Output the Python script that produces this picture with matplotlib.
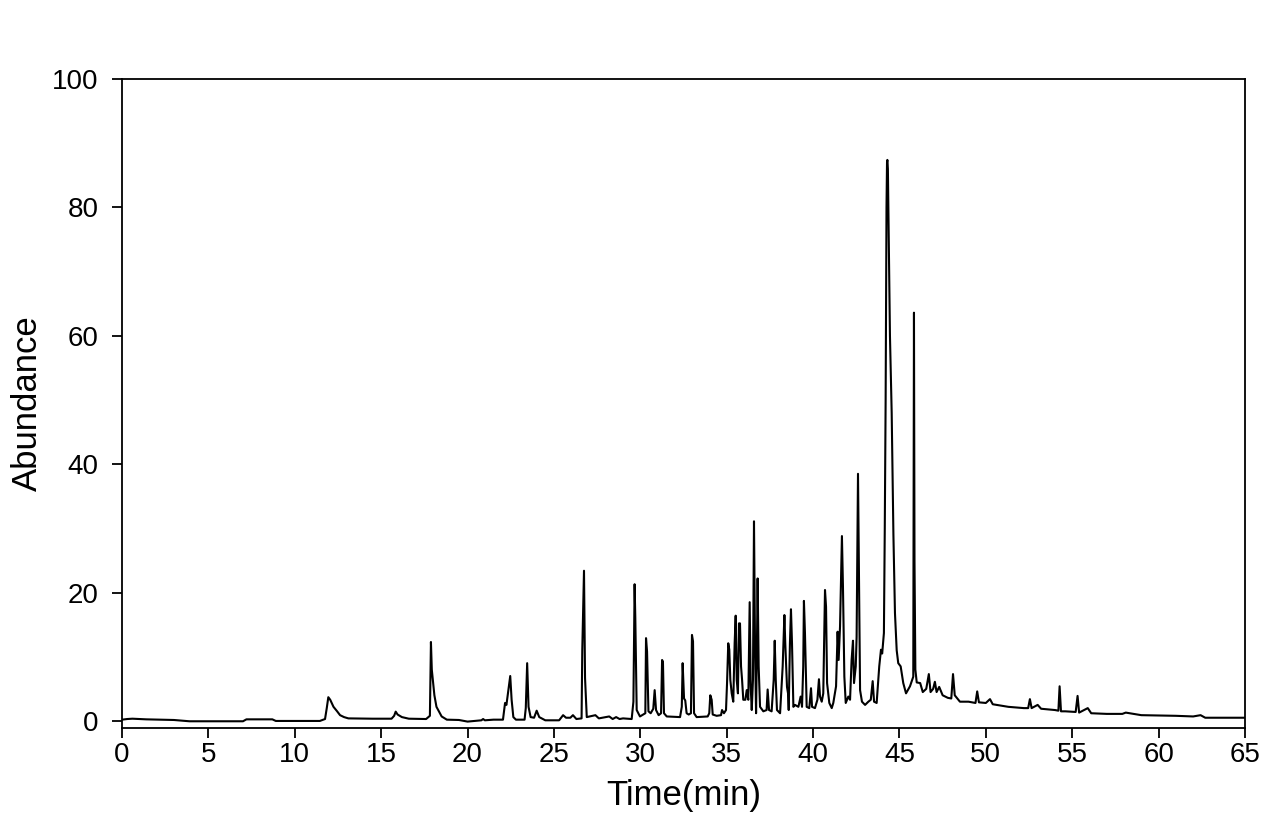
import numpy as np
import matplotlib
matplotlib.use("Agg")
import matplotlib.pyplot as plt

# Chromatogram trace, split into retention-time segments
t_early = [0, 0.3, 0.6, 1.0, 1.4, 3.0, 3.9, 7.0, 7.2, 8.7, 8.9, 11.45, 11.75, 11.85,
           11.94, 12.05, 12.24, 12.45, 12.62, 12.85, 13.1, 14.5, 15.6, 15.75, 15.84,
           15.95, 16.2, 16.6, 17.6, 17.82, 17.88, 17.93, 18.0, 18.08, 18.2, 18.5, 18.8,
           19.5, 20.0, 20.8, 20.9, 21.0]
y_early = [0.2, 0.3, 0.35, 0.3, 0.25, 0.15, -0.05, -0.05, 0.25, 0.25, 0.0, 0.0, 0.3,
           2.0, 3.7, 3.3, 2.2, 1.5, 0.9, 0.6, 0.4, 0.35, 0.35, 0.8, 1.45, 1.0, 0.6, 0.35,
           0.3, 0.8, 12.3, 8.0, 6.1, 4.0, 2.2, 0.7, 0.2, 0.15, -0.1, 0.1, 0.3, 0.1]

t_mid = [21.5, 22.05, 22.17, 22.25, 22.34, 22.47, 22.55, 22.65, 22.8, 23.3, 23.37,
         23.45, 23.53, 23.65, 23.85, 24.0, 24.15, 24.5, 25.3, 25.53, 25.7, 25.95, 26.1,
         26.3, 26.6, 26.64, 26.74, 26.8, 26.9, 27.4, 27.6, 28.2, 28.4, 28.6, 28.8, 29.0,
         29.5, 29.6, 29.67, 29.71, 29.79, 29.98, 30.29, 30.33, 30.39, 30.47, 30.6, 30.75,
         30.83, 30.91, 31.06, 31.2, 31.26, 31.31, 31.37, 31.53, 32.3, 32.4, 32.45, 32.53,
         32.6, 32.68, 32.8, 32.93, 32.99, 33.05, 33.11, 33.26, 33.9, 33.99, 34.05, 34.13,
         34.19, 34.42, 34.67, 34.73, 34.84]
y_mid = [0.2, 0.2, 2.8, 2.5, 4.3, 7.0, 3.3, 0.6, 0.2, 0.2, 2.0, 9.0, 2.2, 0.6, 0.5,
         1.6, 0.6, 0.1, 0.1, 0.9, 0.5, 0.5, 0.9, 0.3, 0.4, 11.0, 23.4, 6.7, 0.6, 0.9,
         0.4, 0.7, 0.3, 0.6, 0.3, 0.4, 0.3, 3.0, 21.3, 16.0, 1.7, 0.7, 1.2, 12.9, 10.8,
         1.5, 1.2, 1.9, 4.8, 1.7, 0.9, 1.2, 9.5, 9.2, 1.2, 0.7, 0.6, 2.2, 9.0, 3.5, 3.2,
         1.2, 1.0, 1.2, 13.4, 12.4, 1.2, 0.6, 0.7, 1.2, 4.0, 3.3, 1.0, 0.8, 0.9, 1.7, 1.2]

t_cluster = [34.96, 35.02, 35.09, 35.15, 35.21, 35.29, 35.38, 35.46, 35.52, 35.58,
             35.65, 35.71, 35.77, 35.83, 35.89, 35.96, 36.08, 36.16, 36.25, 36.33, 36.39,
             36.45, 36.52, 36.58, 36.64, 36.7, 36.75, 36.79, 36.85, 36.93, 37.12, 37.31,
             37.37, 37.45, 37.6, 37.72, 37.78, 37.84, 37.91, 38.09, 38.24, 38.34, 38.39,
             38.49, 38.55, 38.59, 38.66, 38.72, 38.78, 38.86, 38.95, 39.15, 39.28, 39.36,
             39.43, 39.47, 39.53, 39.63, 39.78, 39.88, 39.94, 40.11, 40.25, 40.34, 40.4,
             40.5, 40.59, 40.69, 40.75, 40.81, 40.94, 41.08, 41.17, 41.33, 41.42, 41.48,
             41.56, 41.67, 41.73, 41.81, 41.89, 42.04, 42.14, 42.23, 42.31, 42.37, 42.47,
             42.52, 42.6, 42.66, 42.72, 42.83, 43.01, 43.2, 43.34, 43.45, 43.53, 43.68,
             43.83, 43.93]
y_cluster = [1.7, 5.9, 12.1, 11.1, 6.4, 4.3, 3.0, 12.1, 16.4, 6.4, 4.3, 15.2, 15.2, 8.5,
             6.4, 3.3, 3.3, 4.8, 3.3, 18.5, 5.3, 1.7, 6.4, 31.1, 11.6, 1.2, 11.6, 22.2,
             8.5, 2.2, 1.5, 1.7, 4.9, 1.7, 1.5, 6.4, 12.5, 6.4, 1.7, 1.2, 8.5, 16.5, 12.1,
             5.3, 4.3, 1.7, 12.1, 17.4, 12.1, 2.2, 2.5, 2.2, 3.8, 2.2, 8.5, 18.7, 13.7,
             2.2, 2.0, 5.1, 2.2, 2.0, 3.3, 6.5, 3.8, 3.0, 4.3, 20.4, 17.8, 5.9, 2.8, 2.0,
             2.8, 5.4, 13.9, 9.5, 14.7, 28.8, 20.9, 6.9, 2.8, 3.8, 3.3, 9.5, 12.5, 5.9,
             8.5, 13.1, 38.5, 20.9, 4.8, 3.0, 2.5, 3.0, 3.3, 6.2, 3.0, 2.8, 8.5, 11.1]

t_main = [44.0, 44.1, 44.15, 44.2, 44.25, 44.28, 44.3, 44.33, 44.38, 44.45, 44.55,
          44.65, 44.74, 44.84, 44.93, 45.07, 45.22, 45.38, 45.61, 45.8, 45.84, 45.87,
          45.92, 46.0, 46.2, 46.35, 46.55, 46.7, 46.8, 46.95, 47.05, 47.15, 47.3, 47.5,
          47.8, 48.0, 48.1, 48.2]
y_main = [10.5, 13.7, 30, 50, 80, 87.0, 87.4, 86, 75, 60, 48, 29, 16.8, 11, 9.0, 8.5,
          5.9, 4.3, 5.4, 6.9, 63.6, 25, 8, 6, 5.9, 4.5, 5.0, 7.3, 4.5, 5.0, 6.1, 4.5,
          5.3, 4.0, 3.6, 3.5, 7.3, 4.0]

t_tail = [48.5, 49.0, 49.4, 49.5, 49.6, 50.0, 50.24, 50.4, 51.3, 52.2, 52.45, 52.55,
          52.65, 53.0, 53.2, 54.0, 54.2, 54.27, 54.35, 54.6, 55.2, 55.31, 55.4, 55.9,
          56.1, 57.0, 57.9, 58.1, 59.0, 61.0, 62.0, 62.43, 62.7, 65.0]
y_tail = [3.0, 3.0, 2.8, 4.6, 2.9, 2.8, 3.4, 2.6, 2.2, 2.0, 2.0, 3.4, 2.0, 2.5, 1.9,
          1.7, 1.6, 5.4, 1.5, 1.5, 1.4, 3.9, 1.3, 2.0, 1.2, 1.1, 1.1, 1.3, 0.9, 0.8, 0.7,
          0.9, 0.5, 0.5]

x_ticks = list(range(0, 66, 5))
y_ticks = [0, 20, 40, 60, 80, 100]

time = np.concatenate([t_early, t_mid, t_cluster, t_main, t_tail])
abundance = np.concatenate([y_early, y_mid, y_cluster, y_main, y_tail])

plt.rcParams["font.family"] = ["Liberation Sans", "DejaVu Sans"]

fig = plt.figure(figsize=(12.86, 8.19), dpi=100)
ax = fig.add_axes([0.0949, 0.1111, 0.8732, 0.7924])

ax.plot(time, abundance, color="black", lw=1.5)

ax.set_xlim(0, 65)
ax.set_ylim(-1.1, 100)
ax.set_xticks(x_ticks)
ax.set_yticks(y_ticks)
ax.tick_params(axis="both", direction="out", length=7, width=1.3, labelsize=20)
ax.tick_params(axis="x", pad=3)
ax.tick_params(axis="y", pad=10)
for s in ax.spines.values():
    s.set_linewidth(1.3)

ax.set_xlabel("Time(min)", fontsize=25, labelpad=8)
ax.set_ylabel("Abundance", fontsize=25, labelpad=6)

fig.savefig("out.png", dpi=100)
